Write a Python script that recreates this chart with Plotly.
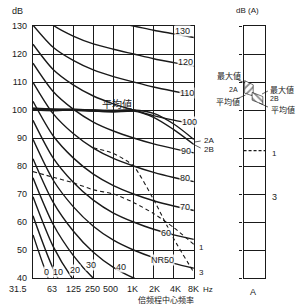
import plotly.graph_objects as go

# ---------------- data ----------------
freq_labels = ["31.5", "63", "125", "250", "500", "1K", "2K", "4K", "8K"]

nr_levels = [0, 10, 20, 30, 40, 50, 60, 70, 80, 90, 100, 110, 120, 130]
nr0 = [55.4, 35.5, 22.0, 12.0, 4.8, 0.0, -3.5, -6.1, -8.0]
nr10 = [62.2, 43.4, 30.7, 21.3, 14.5, 10.0, 6.7, 4.2, 2.3]
nr20 = [69.0, 51.3, 39.4, 30.6, 24.3, 20.0, 16.8, 14.4, 12.6]
nr30 = [75.8, 59.2, 48.1, 39.9, 34.0, 30.0, 27.0, 24.7, 22.9]
nr40 = [82.6, 67.1, 56.8, 49.2, 43.8, 40.0, 37.1, 34.9, 33.2]
nr50 = [89.5, 75.0, 65.5, 58.5, 53.5, 50.0, 47.3, 45.2, 43.5]
nr60 = [96.3, 82.9, 74.2, 67.8, 63.2, 60.0, 57.4, 55.4, 53.8]
nr70 = [103.1, 90.8, 82.9, 77.1, 73.0, 70.0, 67.6, 65.7, 64.1]
nr80 = [109.9, 98.7, 91.6, 86.4, 82.7, 80.0, 77.7, 75.9, 74.4]
nr90 = [116.7, 106.6, 100.3, 95.7, 92.5, 90.0, 87.9, 86.2, 84.7]
nr100 = [123.5, 114.5, 109.0, 105.0, 102.2, 100.0, 98.0, 96.4, 95.0]
nr110 = [130.3, 122.4, 117.7, 114.3, 111.9, 110.0, 108.2, 106.7, 105.3]
nr120 = [137.1, 130.3, 126.4, 123.6, 121.7, 120.0, 118.3, 116.9, 115.6]
nr130 = [143.9, 138.2, 135.1, 132.9, 131.4, 130.0, 128.5, 127.2, 125.9]
nr_curves = [nr0, nr10, nr20, nr30, nr40, nr50, nr60, nr70, nr80, nr90,
             nr100, nr110, nr120, nr130]

# measured spectra
spec_2a = [100.6, 100.3, 100.2, 100.0, 99.8, 100.0, 98.8, 95.0, 89.5]
spec_2b = [100.0, 99.8, 100.0, 99.6, 99.4, 99.6, 97.4, 93.0, 87.7]
spec_1 = [78.0, 76.0, 74.0, 71.5, 70.0, 67.0, 63.0, 58.0, 52.0]
spec_3 = [None, None, None, 86.5, 84.5, 80.0, 68.0, 54.0, 42.0]

# dB(A) column values
dba_2a = [105.0, 110.5]   # average, maximum
dba_2b = [102.0, 106.3]
dba_1 = 85.5
dba_3 = 70.0

# curve label texts and anchor (x index, dB)
curve_label_text = ["130", "120", "110", "100", "90", "80", "70", "60", "NR50",
                    "40", "30", "20", "10", "0"]
curve_label_x = [7.45, 7.6, 7.65, 7.8, 7.6, 7.55, 7.55, 6.6, 6.45, 4.4, 2.9, 2.1, 1.25, 0.65]
curve_label_y = [128.3, 117.2, 106.2, 95.8, 85.4, 75.6, 65.5, 56.2, 46.5, 44.0, 44.6, 42.8, 42.3, 42.3]

# ---------------- layout helpers ----------------
W, H = 296, 304
ML, MR, MT, MB = 27, 31, 26, 26
PW, PH = W - ML - MR, H - MT - MB


def px(xp):
    return (xp - ML) / PW


def py(yp):
    return (H - MB - yp) / PH


INK = "#1a1a1a"
FONT = "Liberation Sans Narrow, Liberation Sans, sans-serif"
CJK = "Noto Sans CJK JP"

fig = go.Figure()
xs = list(range(len(freq_labels)))

for c in nr_curves:
    fig.add_trace(go.Scatter(x=xs, y=c, mode="lines",
                             line=dict(color=INK, width=1.4, shape="spline", smoothing=0.8),
                             hoverinfo="skip", showlegend=False))

fig.add_trace(go.Scatter(x=xs, y=spec_2a, mode="lines",
                         line=dict(color=INK, width=1.4, shape="spline", smoothing=0.8),
                         showlegend=False))
fig.add_trace(go.Scatter(x=xs, y=spec_2b, mode="lines",
                         line=dict(color=INK, width=1.4, shape="spline", smoothing=0.8),
                         showlegend=False))
# thick "average" portion
fig.add_trace(go.Scatter(x=xs[:6], y=[(a + b) / 2 for a, b in zip(spec_2a[:6], spec_2b[:6])],
                         mode="lines", line=dict(color=INK, width=2.6, shape="spline"),
                         showlegend=False))
fig.add_trace(go.Scatter(x=xs, y=spec_1, mode="lines",
                         line=dict(color=INK, width=1.1, dash="4px,3px", shape="spline", smoothing=0.6),
                         showlegend=False))
fig.add_trace(go.Scatter(x=xs, y=spec_3, mode="lines",
                         line=dict(color=INK, width=1.1, dash="4px,3px", shape="spline", smoothing=0.6),
                         showlegend=False))

# dB(A) column
fig.add_trace(go.Scatter(x=[0.05, 0.45, 0.45, 0.05, 0.05],
                         y=[dba_2a[1], dba_2a[1] - 1.5, dba_2a[0], dba_2a[0] + 1.0, dba_2a[1]],
                         xaxis="x2", yaxis="y2", mode="lines", fill="toself",
                         fillcolor="white",
                         fillpattern=dict(shape="/", fgcolor=INK, bgcolor="white", size=5, solidity=0.35),
                         line=dict(color=INK, width=0.6), showlegend=False))
fig.add_trace(go.Scatter(x=[0.4, 0.9, 0.9, 0.4, 0.4],
                         y=[dba_2b[1], dba_2b[1] - 1.5, dba_2b[0], dba_2b[0] + 1.5, dba_2b[1]],
                         xaxis="x2", yaxis="y2", mode="lines", fill="toself",
                         fillcolor="white",
                         fillpattern=dict(shape="\\", fgcolor=INK, bgcolor="white", size=5, solidity=0.35),
                         line=dict(color=INK, width=0.6), showlegend=False))
fig.add_trace(go.Scatter(x=[0, 1], y=[dba_1, dba_1], xaxis="x2", yaxis="y2", mode="lines",
                         line=dict(color=INK, width=1.2, dash="3px,2px"), showlegend=False))

ann = []
for t, x, y in zip(curve_label_text, curve_label_x, curve_label_y):
    ann.append(dict(x=x, y=y, xref="x", yref="y", text=t, showarrow=False,
                    font=dict(family=FONT, size=9, color=INK), bgcolor="rgba(255,255,255,0.85)",
                    borderpad=0))


def note(xp, yp, text, size=9, family=FONT, anchor="center"):
    ann.append(dict(x=px(xp), y=py(yp), xref="paper", yref="paper", text=text,
                    showarrow=False, xanchor=anchor, yanchor="middle",
                    font=dict(family=family, size=size, color=INK)))


# x tick labels
tick_px = [12, 46, 69, 88, 106, 129, 152, 173, 192]
for t, xp in zip(freq_labels, tick_px):
    note(xp, 289, t, size=9)
note(207, 289, "Hz", size=8)
note(163, 299, "倍频程中心频率", size=8, family=CJK)
note(11, 11, "dB", size=9)
note(113, 103, "平均値", size=10, family=CJK)
note(200, 140, "2A", size=8, anchor="left")
note(200, 149, "2B", size=8, anchor="left")
note(195, 247, "1", size=8, anchor="left")
note(195, 272, "3", size=8, anchor="left")

# right column labels
note(247, 11, "dB (A)", size=8)
note(253, 292, "A", size=9)
note(242, 75, "最大値", size=8, family=CJK, anchor="right")
note(233, 89, "2A", size=7)
note(241, 101, "平均値", size=8, family=CJK, anchor="right")
note(268, 89, "最大値", size=8, family=CJK, anchor="left")
note(268, 98, "2B", size=7, anchor="left")
note(269, 109, "平均値", size=8, family=CJK, anchor="left")
note(270, 153, "1", size=8, anchor="left")
note(270, 197, "3", size=9, anchor="left")

shapes = [
    dict(type="line", xref="paper", yref="paper", x0=px(236), y0=py(79), x1=px(244), y1=py(83),
         line=dict(color=INK, width=0.7)),
    dict(type="line", xref="paper", yref="paper", x0=px(236), y0=py(99), x1=px(245), y1=py(95),
         line=dict(color=INK, width=0.7)),
    dict(type="line", xref="paper", yref="paper", x0=px(268), y0=py(91), x1=px(262), y1=py(94),
         line=dict(color=INK, width=0.7)),
    dict(type="line", xref="paper", yref="paper", x0=px(268), y0=py(107), x1=px(259), y1=py(103),
         line=dict(color=INK, width=0.7)),
    dict(type="line", xref="paper", yref="paper", x0=px(199), y0=py(141), x1=px(193), y1=py(142),
         line=dict(color=INK, width=0.7)),
    dict(type="line", xref="paper", yref="paper", x0=px(199), y0=py(148), x1=px(193), y1=py(145),
         line=dict(color=INK, width=0.7)),
]

axis_common = dict(showline=True, mirror=True, linecolor=INK, linewidth=1.3,
                   zeroline=False, gridcolor=INK, gridwidth=1.1)

fig.update_layout(
    width=W, height=H,
    margin=dict(l=ML, r=MR, t=MT, b=MB, pad=0),
    paper_bgcolor="white", plot_bgcolor="white",
    xaxis=dict(domain=[0, px(192)], range=[0, 8], tickvals=xs, showticklabels=False,
               showgrid=True, **axis_common),
    yaxis=dict(range=[40, 130], tickvals=list(range(40, 131, 10)), showgrid=True,
               ticks="", ticklabelstandoff=3,
               tickfont=dict(family=FONT, size=9, color=INK), **axis_common),
    xaxis2=dict(domain=[px(243), 1], range=[0, 1], anchor="y2", showgrid=False,
                showticklabels=False, ticks="", **axis_common),
    yaxis2=dict(range=[40, 130], anchor="x2", tickvals=list(range(40, 131, 10)),
                showgrid=True, showticklabels=False, ticks="outside", ticklen=3,
                tickcolor=INK, tickwidth=1, **axis_common),
    annotations=ann, shapes=shapes, showlegend=False,
)

fig.write_html("out.html")
